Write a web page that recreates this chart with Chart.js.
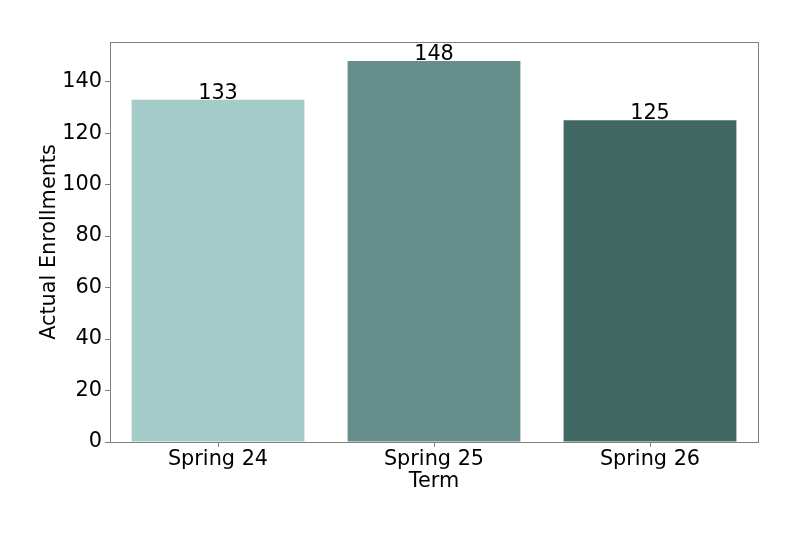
<!DOCTYPE html>
<html>
<head>
<meta charset="utf-8">
<script src="https://cdn.jsdelivr.net/npm/chart.js@4/dist/chart.umd.min.js"></script>
<style>
html,body{margin:0;padding:0;background:#fff;}
#wrap{width:800px;height:533px;}
</style>
</head>
<body>
<div id="wrap"><canvas id="c" width="800" height="533"></canvas></div>
<script>
const categories = ["Spring 24", "Spring 25", "Spring 26"];
const enrollments = [133, 148, 125];
const barColors = ["#a5cbc8", "#668e8b", "#426864"];
const yTicks = [0, 20, 40, 60, 80, 100, 120, 140];
const xTitle = "Term";
const yTitle = "Actual Enrollments";

const FONT = "'DejaVu Sans', sans-serif";
const FS = 20.8;
const AXIS_GREY = "#808080";

const framePlugin = {
  id: 'frame',
  afterDatasetsDraw(chart) {
    const {ctx, chartArea: a} = chart;
    ctx.save();
    ctx.strokeStyle = AXIS_GREY;
    ctx.lineWidth = 1;
    ctx.strokeRect(Math.round(a.left) + 0.5, Math.round(a.top) + 0.5, Math.round(a.right - a.left), Math.round(a.bottom - a.top));
    ctx.restore();
  }
};

const labelPlugin = {
  id: 'valueLabels',
  afterDatasetsDraw(chart) {
    const {ctx} = chart;
    const meta = chart.getDatasetMeta(0);
    ctx.save();
    ctx.font = FS + "px " + FONT;
    ctx.fillStyle = "#000";
    ctx.textAlign = "center";
    ctx.textBaseline = "alphabetic";
    meta.data.forEach((bar, i) => {
      ctx.fillText(String(enrollments[i]), bar.x, bar.y - 1);
    });
    ctx.restore();
  }
};

new Chart(document.getElementById('c'), {
  type: 'bar',
  data: {
    labels: categories,
    datasets: [{
      data: enrollments,
      backgroundColor: barColors,
      borderColor: barColors,
      borderWidth: 0,
      categoryPercentage: 0.8,
      barPercentage: 1.0
    }]
  },
  options: {
    responsive: false,
    animation: false,
    devicePixelRatio: 1,
    layout: {padding: {left: 0, top: 42, right: 42, bottom: 0}},
    plugins: {legend: {display: false}, tooltip: {enabled: false}},
    scales: {
      x: {
        offset: true,
        grid: {display: true, drawOnChartArea: false, drawTicks: true, tickLength: 5, tickColor: AXIS_GREY, offset: false},
        border: {display: true, color: AXIS_GREY},
        ticks: {color: "#000", font: {family: FONT, size: FS}, padding: 0, maxRotation: 0},
        title: {display: true, text: xTitle, color: "#000", font: {family: FONT, size: FS}, padding: {top: 0, bottom: 39}},
        afterFit(scale) { scale.height = 91; }
      },
      y: {
        min: 0,
        max: 155.4,
        grid: {display: true, drawOnChartArea: false, drawTicks: true, tickLength: 5, tickColor: AXIS_GREY},
        border: {display: true, color: AXIS_GREY},
        ticks: {color: "#000", font: {family: FONT, size: FS}, padding: 3, stepSize: 20},
        afterBuildTicks(scale) { scale.ticks = yTicks.map(v => ({value: v})); },
        title: {display: true, text: yTitle, color: "#000", font: {family: FONT, size: FS}, padding: {top: 37, bottom: 0}},
        afterFit(scale) { scale.width = 110; }
      }
    }
  },
  plugins: [framePlugin, labelPlugin]
});
</script>
</body>
</html>
